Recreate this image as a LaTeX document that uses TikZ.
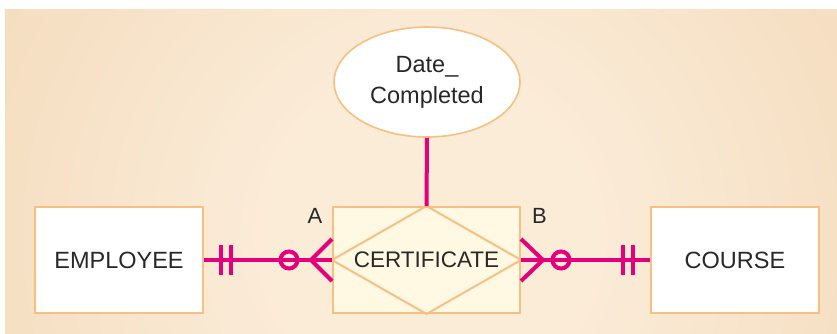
\documentclass[tikz,border=0pt]{standalone}
\usepackage{fontspec}
\setmainfont{Liberation Sans}
\usetikzlibrary{calc,shapes.geometric}

\definecolor{glowin}{RGB}{251,236,216}
\definecolor{glowout}{RGB}{235,198,153}
\definecolor{edgeorange}{RGB}{246,192,130}
\definecolor{relpink}{RGB}{228,0,124}
\definecolor{inktext}{RGB}{40,40,40}
\definecolor{assocfill}{RGB}{255,249,228}

\pgfdeclareradialshading{bgglow}{\pgfpoint{0bp}{0bp}}{%
  color(0bp)=(glowin); color(7bp)=(glowin); color(44bp)=(glowout); color(50bp)=(glowout)}

\tikzset{
  entity/.style={draw=edgeorange, line width=2pt, fill=white, minimum width=168pt,
    minimum height=106pt, inner sep=0pt, text=inktext, font=\fontsize{23.5}{28}\selectfont},
  assoc/.style={draw=edgeorange, line width=2pt, fill=assocfill, minimum width=187pt,
    minimum height=106pt, inner sep=0pt},
  attr/.style={ellipse, draw=edgeorange, line width=1.6pt, fill=white, minimum width=186pt,
    minimum height=110pt, inner sep=0pt, text=inktext, align=center,
    font=\fontsize{23.5}{31}\selectfont},
  rel/.style={draw=relpink, line width=4pt},
  tag/.style={text=inktext, font=\fontsize{22}{26}\selectfont, inner sep=0pt}
}

\begin{document}
\begin{tikzpicture}[x=1pt, y=-1pt]
  \useasboundingbox (0,0) rectangle (837,333);
  \fill[white] (0,0) rectangle (837,333);

  % warm background glow
  \begin{scope}
    \clip (5,9) rectangle (837,333);
    \fill[glowout] (5,9) rectangle (837,333);
    \shade[shading=bgglow] (430,235) circle (560);
  \end{scope}

  % entities, associative entity and attribute
  \node[entity] (emp) at (119,260) {EMPLOYEE};
  \node[entity] (crs) at (735,260) {COURSE};
  \node[assoc] (cert) at (426.5,260) {};
  \draw[edgeorange, line width=2pt]
    (cert.north) -- (cert.east) -- (cert.south) -- (cert.west) -- cycle;
  \node[text=inktext, font=\fontsize{22.5}{27}\selectfont] (certlbl) at (cert.center) {CERTIFICATE};
  \node[attr] (date) at (427,82) {Date\_\\Completed};

  % attribute link
  \draw[rel] (date.south) -- (cert.north);

  % EMPLOYEE -- CERTIFICATE (mandatory one / optional many)
  \draw[rel] (emp.east) -- (cert.west);
  \draw[rel] ($(emp.east)+(17,-15)$) -- ($(emp.east)+(17,15)$);
  \draw[rel] ($(emp.east)+(27,-15)$) -- ($(emp.east)+(27,15)$);
  \draw[rel, fill=none] ($(cert.west)+(-43,0)$) circle (8.5);
  \draw[rel] ($(cert.west)+(0,-21)$) -- ($(cert.west)+(-21,0)$) -- ($(cert.west)+(0,21)$);

  % CERTIFICATE -- COURSE (optional many / mandatory one)
  \draw[rel] (cert.east) -- (crs.west);
  \draw[rel] ($(crs.west)+(-17,-15)$) -- ($(crs.west)+(-17,15)$);
  \draw[rel] ($(crs.west)+(-27,-15)$) -- ($(crs.west)+(-27,15)$);
  \draw[rel, fill=none] ($(cert.east)+(40,0)$) circle (8.5);
  \draw[rel] ($(cert.east)+(0,-21)$) -- ($(cert.east)+(22,0)$) -- ($(cert.east)+(0,21)$);

  % relationship end labels
  \node[tag] (lblA) at (315,216) {A};
  \node[tag] (lblB) at (539.5,216) {B};
\end{tikzpicture}
\end{document}
